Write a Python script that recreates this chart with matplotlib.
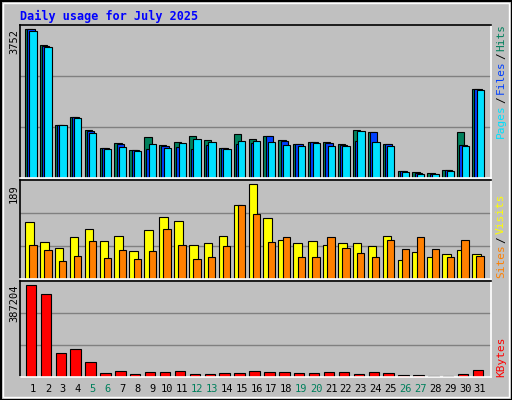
import numpy as np
import matplotlib
matplotlib.use("Agg")
import matplotlib.pyplot as plt
from matplotlib.patches import Rectangle

days = np.arange(1, 32)
hits = [3752, 3345, 1333, 1537, 1205, 747, 874, 696, 1027, 823, 900, 1053, 951, 747, 1104, 976,
        1053, 951, 849, 900, 900, 849, 1205, 1155, 849, 187, 161, 136, 212, 1155, 2250]
files = [3752, 3328, 1333, 1528, 1180, 747, 849, 696, 722, 798, 773, 722, 823, 747, 849, 874,
         1053, 925, 849, 900, 874, 823, 925, 1155, 849, 187, 136, 110, 212, 823, 2250]
pages = [3701, 3294, 1333, 1511, 1129, 722, 773, 671, 849, 747, 874, 976, 900, 722, 925, 925,
         900, 823, 798, 874, 798, 798, 1180, 900, 798, 161, 110, 110, 187, 798, 2224]
sites = [113, 74, 62, 83, 99, 76, 85, 56, 97, 123, 115, 68, 72, 85, 148, 189,
         121, 78, 72, 76, 68, 71, 71, 65, 85, 38, 54, 44, 50, 58, 50]
visits = [68, 58, 35, 46, 76, 42, 58, 40, 56, 99, 68, 40, 44, 66, 148, 130,
          74, 83, 44, 44, 83, 62, 52, 44, 78, 60, 83, 60, 44, 78, 46]
kbytes = [387204, 349000, 98900, 115900, 65000, 18400, 26800, 14100, 22600, 22600, 26800, 14100,
          14100, 18400, 18400, 26800, 22600, 22600, 18400, 18400, 22600, 22600, 14100, 22600,
          18400, 9900, 9900, 4200, 4200, 14100, 31100]
weekend = [5, 6, 12, 13, 19, 20, 26, 27]

C_HITS, C_FILES, C_PAGES = "#00805C", "#0040FF", "#00E0FF"
C_SITES, C_VISITS, C_KB = "#FFFF00", "#FF8000", "#FF0000"
GRAY = "#C0C0C0"
W, H = 512, 400

fig = plt.figure(figsize=(W / 100, H / 100), dpi=100, facecolor=GRAY)
mono = "DejaVu Sans Mono"

# outer bevel
fig.patches.append(Rectangle((0.5 / W, 0.5 / H), 1 - 1 / W, 1 - 1 / H, transform=fig.transFigure,
                             fill=False, ec="black", lw=1.5))
fig.patches.append(Rectangle((3 / W, 3 / H), 1 - 6 / W, 1 - 6 / H, transform=fig.transFigure,
                             fill=False, ec="white", lw=1))


def px_axes(x0, y0, x1, y1):
    ax = fig.add_axes([x0 / W, 1 - y1 / H, (x1 - x0) / W, (y1 - y0) / H])
    ax.set_facecolor(GRAY)
    for s in ["left", "top"]:
        ax.spines[s].set_color("black")
    for s in ["right", "bottom"]:
        ax.spines[s].set_color("white")
    for s in ax.spines.values():
        s.set_linewidth(1.2)
    ax.set_xticks([])
    ax.set_yticks([])
    ax.set_xlim(0.164, 31.77)
    return ax


def grid(ax, top):
    ax.set_ylim(0, top)
    for f in (1 / 3, 2 / 3):
        ax.axhline(top * f, color="#808080", lw=1, zorder=0)


x = days - 0.5

ax1 = px_axes(20, 25, 491, 178)
grid(ax1, 3861)
kw = dict(align="edge", edgecolor="black", linewidth=0.8)
ax1.bar(x, hits, 0.49, color=C_HITS, **kw)
ax1.bar(x + 0.15, files, 0.49, color=C_FILES, **kw)
ax1.bar(x + 0.30, pages, 0.49, color=C_PAGES, **kw)

ax2 = px_axes(20, 180, 491, 279)
grid(ax2, 197.6)
ax2.bar(x, sites, 0.58, color=C_SITES, **kw)
ax2.bar(x + 0.29, visits, 0.49, color=C_VISITS, **kw)

ax3 = px_axes(20, 281, 491, 377)
grid(ax3, 404000)
ax3.bar(x + 0.05, kbytes, 0.70, color=C_KB, **kw)

for d in days:
    fig.text((25 + (d - 1) * 14.9 + 8) / W, 1 - 389 / H, str(d), ha="center", va="center",
             fontsize=7.5, family=mono, color=C_HITS if d in weekend else "black")

fig.text(20 / W, 1 - 16 / H, "Daily usage for July 2025", fontsize=8.5, weight="bold",
         family=mono, color="#0000FF", va="center")

for y, s in [(29, "3752"), (184, "189"), (284, "387204")]:
    fig.text(14 / W, 1 - y / H, s, rotation=90, ha="center", va="top", fontsize=7.5, family=mono)


def side(parts, ybot):
    # parts listed bottom-to-top
    y = ybot
    for s, c in parts:
        fig.text(501 / W, 1 - y / H, s, rotation=90, ha="center", va="bottom",
                 fontsize=8, family=mono, color=c)
        y -= len(s) * 6.6 + 2


side([("Pages", C_PAGES), ("/", "black"), ("Files", C_FILES), ("/", "black"), ("Hits", C_HITS)], 138)
side([("Sites", C_VISITS), ("/", "black"), ("Visits", C_SITES)], 278)
side([("KBytes", C_KB)], 377)

fig.savefig("out.png", dpi=100, facecolor=GRAY)
